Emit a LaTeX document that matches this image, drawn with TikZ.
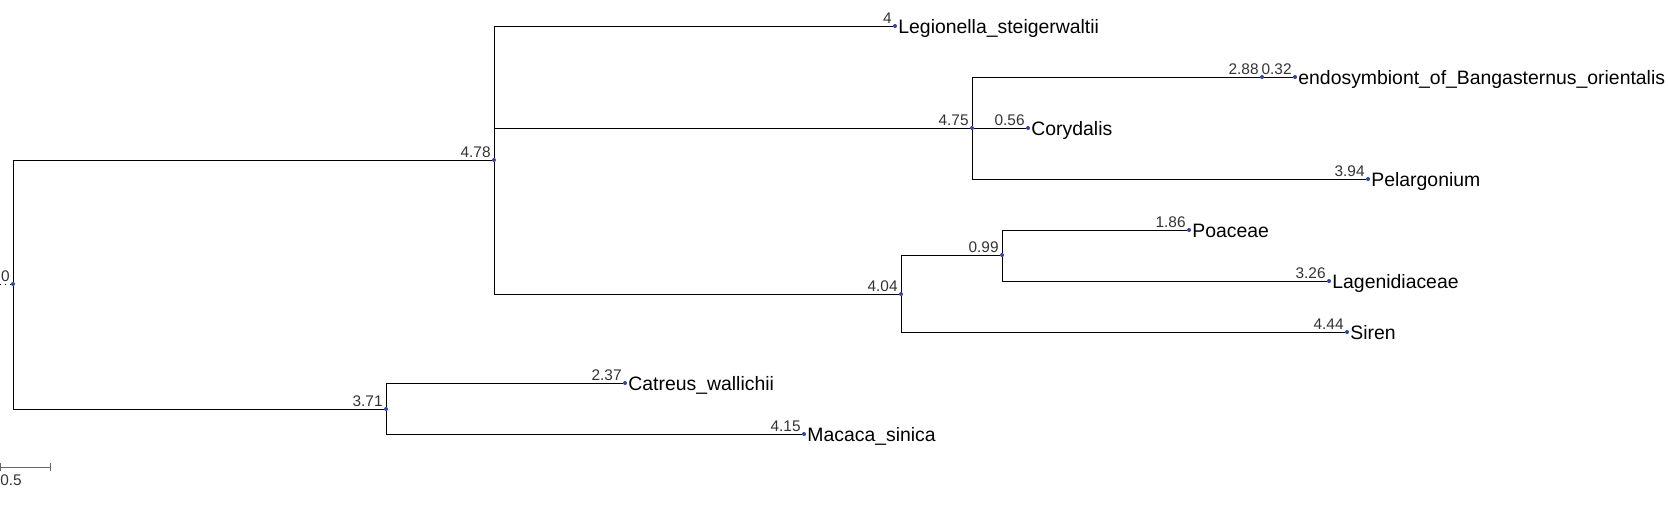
\documentclass[tikz,border=0pt]{standalone}
\usepackage{fontspec}
\setmainfont{Liberation Sans}
\usetikzlibrary{positioning}
\definecolor{dotblue}{RGB}{51,68,153}

\begin{document}
\begin{tikzpicture}[x=0.5pt, y=-0.5pt, br/.style={draw=black,line width=0.5pt}, dot/.style={circle,fill=dotblue,inner sep=0pt,minimum size=2pt}, taxon/.style={anchor=base west,inner sep=0pt,xshift=1.5pt,yshift=-3.5pt,font=\fontsize{9.7}{11}\selectfont}, len/.style={anchor=base east,inner sep=0pt,xshift=-1.5pt,yshift=1.5pt,font=\fontsize{7.7}{9}\selectfont,text=black!80}, bar/.style={draw=black!60,line width=0.5pt}]
\useasboundingbox (0,0) rectangle (1668,511);
% inner nodes
\node[dot] (root) at (13,284) {};
\node[dot] (n478) at (494,160) {};
\node[dot] (n475) at (972,128) {};
\node[dot] (n288) at (1262,77) {};
\node[dot] (n404) at (901,294) {};
\node[dot] (n099) at (1002,255) {};
\node[dot] (n371) at (386,409) {};
% leaves
\node[dot] (leg) at (895,26) {};
\node[dot] (endo) at (1295,77) {};
\node[dot] (cory) at (1028,128) {};
\node[dot] (pel) at (1368,179) {};
\node[dot] (poa) at (1189,230) {};
\node[dot] (lag) at (1329,281) {};
\node[dot] (sir) at (1347,332) {};
\node[dot] (cat) at (625,383) {};
\node[dot] (mac) at (804,434) {};
% taxon names
\node[taxon] (leg-t) at (leg) {Legionella\_steigerwaltii};
\node[taxon] (endo-t) at (endo) {endosymbiont\_of\_Bangasternus\_orientalis};
\node[taxon] (cory-t) at (cory) {Corydalis};
\node[taxon] (pel-t) at (pel) {Pelargonium};
\node[taxon] (poa-t) at (poa) {Poaceae};
\node[taxon] (lag-t) at (lag) {Lagenidiaceae};
\node[taxon] (sir-t) at (sir) {Siren};
\node[taxon] (cat-t) at (cat) {Catreus\_wallichii};
\node[taxon] (mac-t) at (mac) {Macaca\_sinica};
% branch lengths
\node[len] (root-l) at (root) {0};
\node[len] (n478-l) at (n478) {4.78};
\node[len] (n475-l) at (n475) {4.75};
\node[len] (n288-l) at (n288) {2.88};
\node[len] (n404-l) at (n404) {4.04};
\node[len] (n099-l) at (n099) {0.99};
\node[len] (n371-l) at (n371) {3.71};
\node[len] (leg-l) at (leg) {4};
\node[len] (endo-l) at (endo) {0.32};
\node[len] (cory-l) at (cory) {0.56};
\node[len] (pel-l) at (pel) {3.94};
\node[len] (poa-l) at (poa) {1.86};
\node[len] (lag-l) at (lag) {3.26};
\node[len] (sir-l) at (sir) {4.44};
\node[len] (cat-l) at (cat) {2.37};
\node[len] (mac-l) at (mac) {4.15};
% branches
\coordinate (stub) at (0,284);
\draw[br,dotted] (stub) -- (root);
\draw[br] (root) |- (n478);
\draw[br] (root) |- (n371);
\draw[br] (n478) |- (leg);
\draw[br] (n478) |- (n475);
\draw[br] (n478) |- (n404);
\draw[br] (n475) |- (n288);
\draw[br] (n288) -- (endo);
\draw[br] (n475) -- (cory);
\draw[br] (n475) |- (pel);
\draw[br] (n404) |- (n099);
\draw[br] (n099) |- (poa);
\draw[br] (n099) |- (lag);
\draw[br] (n404) |- (sir);
\draw[br] (n371) |- (cat);
\draw[br] (n371) |- (mac);
% scale bar
\coordinate (sb0) at (0,467);
\coordinate (sb1) at (50,467);
\draw[bar] (sb0) -- (sb1);
\draw[bar] ([yshift=2pt]sb0) -- ([yshift=-2pt]sb0);
\draw[bar] ([yshift=2pt]sb1) -- ([yshift=-2pt]sb1);
\node[anchor=base west,inner sep=0pt,font=\fontsize{7.7}{9}\selectfont,text=black!80] (sb-l) at (0,485) {0.5};
\end{tikzpicture}
\end{document}
